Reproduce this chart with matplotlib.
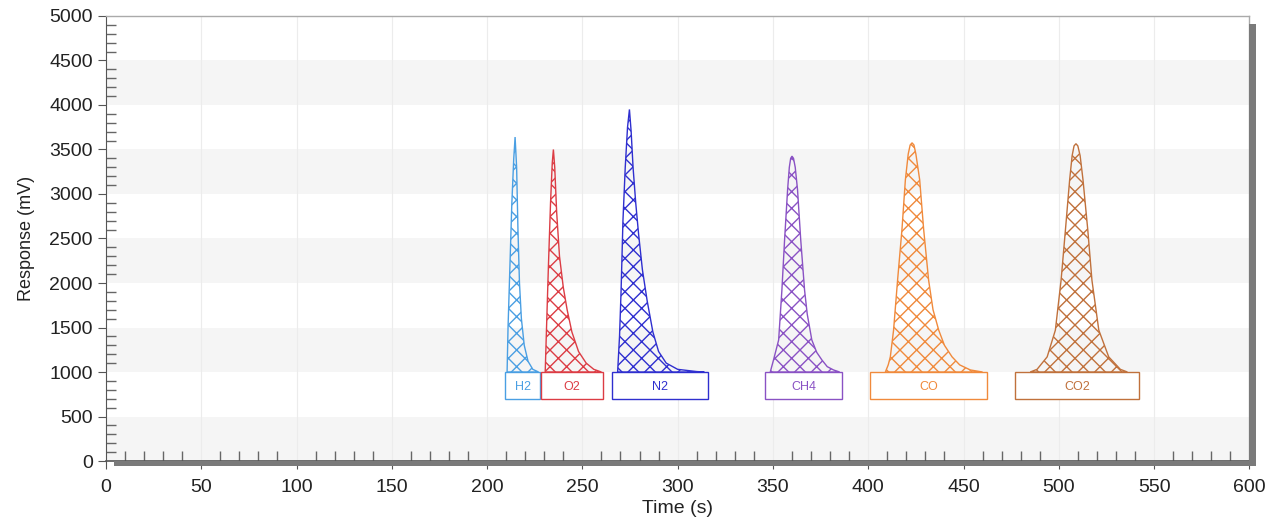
import matplotlib
matplotlib.use("Agg")
import matplotlib.pyplot as plt
from matplotlib.patches import Rectangle
from matplotlib.ticker import MultipleLocator

# peak outlines (time s, response mV)
gases = ["H2", "O2", "N2", "CH4", "CO", "CO2"]
colors = ["#4a9fe3", "#dc3c44", "#2f2fcf", "#8a52c4", "#f08a3c", "#c0713c"]

h2_t = [210.5, 211.0, 212.0, 213.0, 214.0, 214.7, 215.5, 216.2, 217.0, 218.0, 219.5, 221.5, 224.0, 227.0]
h2_r = [1000, 1500, 2200, 2900, 3400, 3640, 3300, 2600, 2000, 1600, 1300, 1120, 1030, 1000]

o2_t = [230.5, 231.2, 232.2, 233.3, 234.2, 234.8, 235.5, 236.5, 238.0, 240.0, 242.0, 244.5, 248.0, 252.0, 256.0, 260.0]
o2_r = [1000, 1500, 2200, 2900, 3350, 3500, 3300, 2800, 2300, 1950, 1700, 1450, 1230, 1100, 1030, 1000]

n2_t = [268.5, 269.5, 270.3, 271.3, 272.5, 273.7, 274.7, 275.6, 276.6, 278.0, 279.5, 281.5, 284.0, 287.0, 290.0, 294.0, 300.0, 310.0, 314.0]
n2_r = [1000, 1400, 1900, 2700, 3300, 3750, 3950, 3700, 3300, 2900, 2550, 2150, 1800, 1450, 1230, 1100, 1030, 1005, 1000]

ch4_t = [348.6, 350.3, 353.0, 354.7, 356.1, 357.7, 358.6, 359.3, 360.0, 360.8, 361.7, 362.9, 364.6, 366.6, 368.0, 370.4, 373.0, 375.7, 378.5, 381.8, 385.0]
ch4_r = [1000, 1135, 1360, 1920, 2480, 3050, 3300, 3400, 3425, 3400, 3300, 3050, 2480, 1920, 1650, 1360, 1220, 1135, 1060, 1023, 1000]

co_t = [409.0, 410.5, 411.6, 413.3, 415.4, 417.7, 419.5, 421.0, 422.0, 423.0, 424.0, 425.0, 427.0, 429.1, 431.7, 434.0, 437.0, 440.0, 444.0, 448.0, 453.6, 460.0]
co_r = [1000, 1080, 1170, 1470, 2030, 2600, 3160, 3450, 3550, 3575, 3550, 3450, 3160, 2600, 2030, 1700, 1470, 1300, 1170, 1080, 1023, 1000]

co2_t = [485.0, 488.6, 493.9, 498.2, 501.2, 503.5, 505.7, 507.0, 508.0, 509.0, 510.0, 511.2, 512.7, 515.2, 517.4, 521.0, 526.2, 532.3, 536.0]
co2_r = [1000, 1030, 1170, 1470, 2030, 2600, 3160, 3430, 3540, 3565, 3540, 3430, 3160, 2600, 2030, 1470, 1170, 1030, 1000]

peaks_t = [h2_t, o2_t, n2_t, ch4_t, co_t, co2_t]
peaks_r = [h2_r, o2_r, n2_r, ch4_r, co_r, co2_r]

# label boxes under each peak: start, end (s)
box_start = [209.5, 228.4, 265.6, 346.0, 401.1, 477.2]
box_end = [227.8, 260.9, 316.0, 386.4, 462.5, 542.3]
box_low, box_high = 700, 1000

plt.rcParams["font.family"] = ["Liberation Sans", "DejaVu Sans"]
plt.rcParams["hatch.linewidth"] = 1.0

fig = plt.figure(figsize=(12.81, 5.24), dpi=100)
ax = fig.add_axes([0.0827, 0.1202, 0.8926, 0.8493])

ax.set_xlim(0, 600)
ax.set_ylim(0, 5000)

# alternating grey bands
for b in range(0, 5000, 1000):
    ax.axhspan(b, b + 500, color="#f5f5f5", zorder=0, lw=0)
for xv in range(50, 600, 50):
    ax.axvline(xv, color="#ececec", lw=0.8, zorder=0.5)

for i in range(len(gases)):
    c = colors[i]
    ax.fill(peaks_t[i], peaks_r[i], facecolor="none", edgecolor=c, hatch="xx", lw=1.0, zorder=3)
    w = box_end[i] - box_start[i]
    ax.add_patch(Rectangle((box_start[i], box_low), w, box_high - box_low,
                           facecolor="white", edgecolor=c, lw=1.0, zorder=4))
    ax.text(box_start[i] + w / 2, (box_low + box_high) / 2 - 20, gases[i], color=c,
            ha="center", va="center", fontsize=9, zorder=5)

ax.xaxis.set_major_locator(MultipleLocator(50))
ax.xaxis.set_minor_locator(MultipleLocator(10))
ax.yaxis.set_major_locator(MultipleLocator(500))
ax.yaxis.set_minor_locator(MultipleLocator(100))
ax.tick_params(which="major", direction="out", length=6, color="#555555", labelsize=14, labelcolor="#222222")
ax.tick_params(axis="x", which="major", pad=7)
ax.tick_params(which="minor", direction="in", length=7, color="#666666", width=1.0)

for s in ["top", "right"]:
    ax.spines[s].set_color("#aaaaaa")
    ax.spines[s].set_linewidth(1.0)
ax.spines["left"].set_color("#555555")
ax.spines["bottom"].set_color("#555555")
ax.spines["bottom"].set_linewidth(1.2)

# drop shadows on bottom and right
ax.add_patch(Rectangle((0.007, -0.012), 0.993, 0.012, transform=ax.transAxes,
                       color="#7a7a7a", clip_on=False, zorder=6, lw=0))
ax.add_patch(Rectangle((1.0, -0.012), 0.006, 0.995, transform=ax.transAxes,
                       color="#7a7a7a", clip_on=False, zorder=6, lw=0))

ax.set_xlabel("Time (s)", fontsize=14, color="#222222", labelpad=3)
ax.set_ylabel("Response (mV)", fontsize=13, color="#222222", labelpad=10)

fig.savefig("out.png", dpi=100, facecolor="white")
